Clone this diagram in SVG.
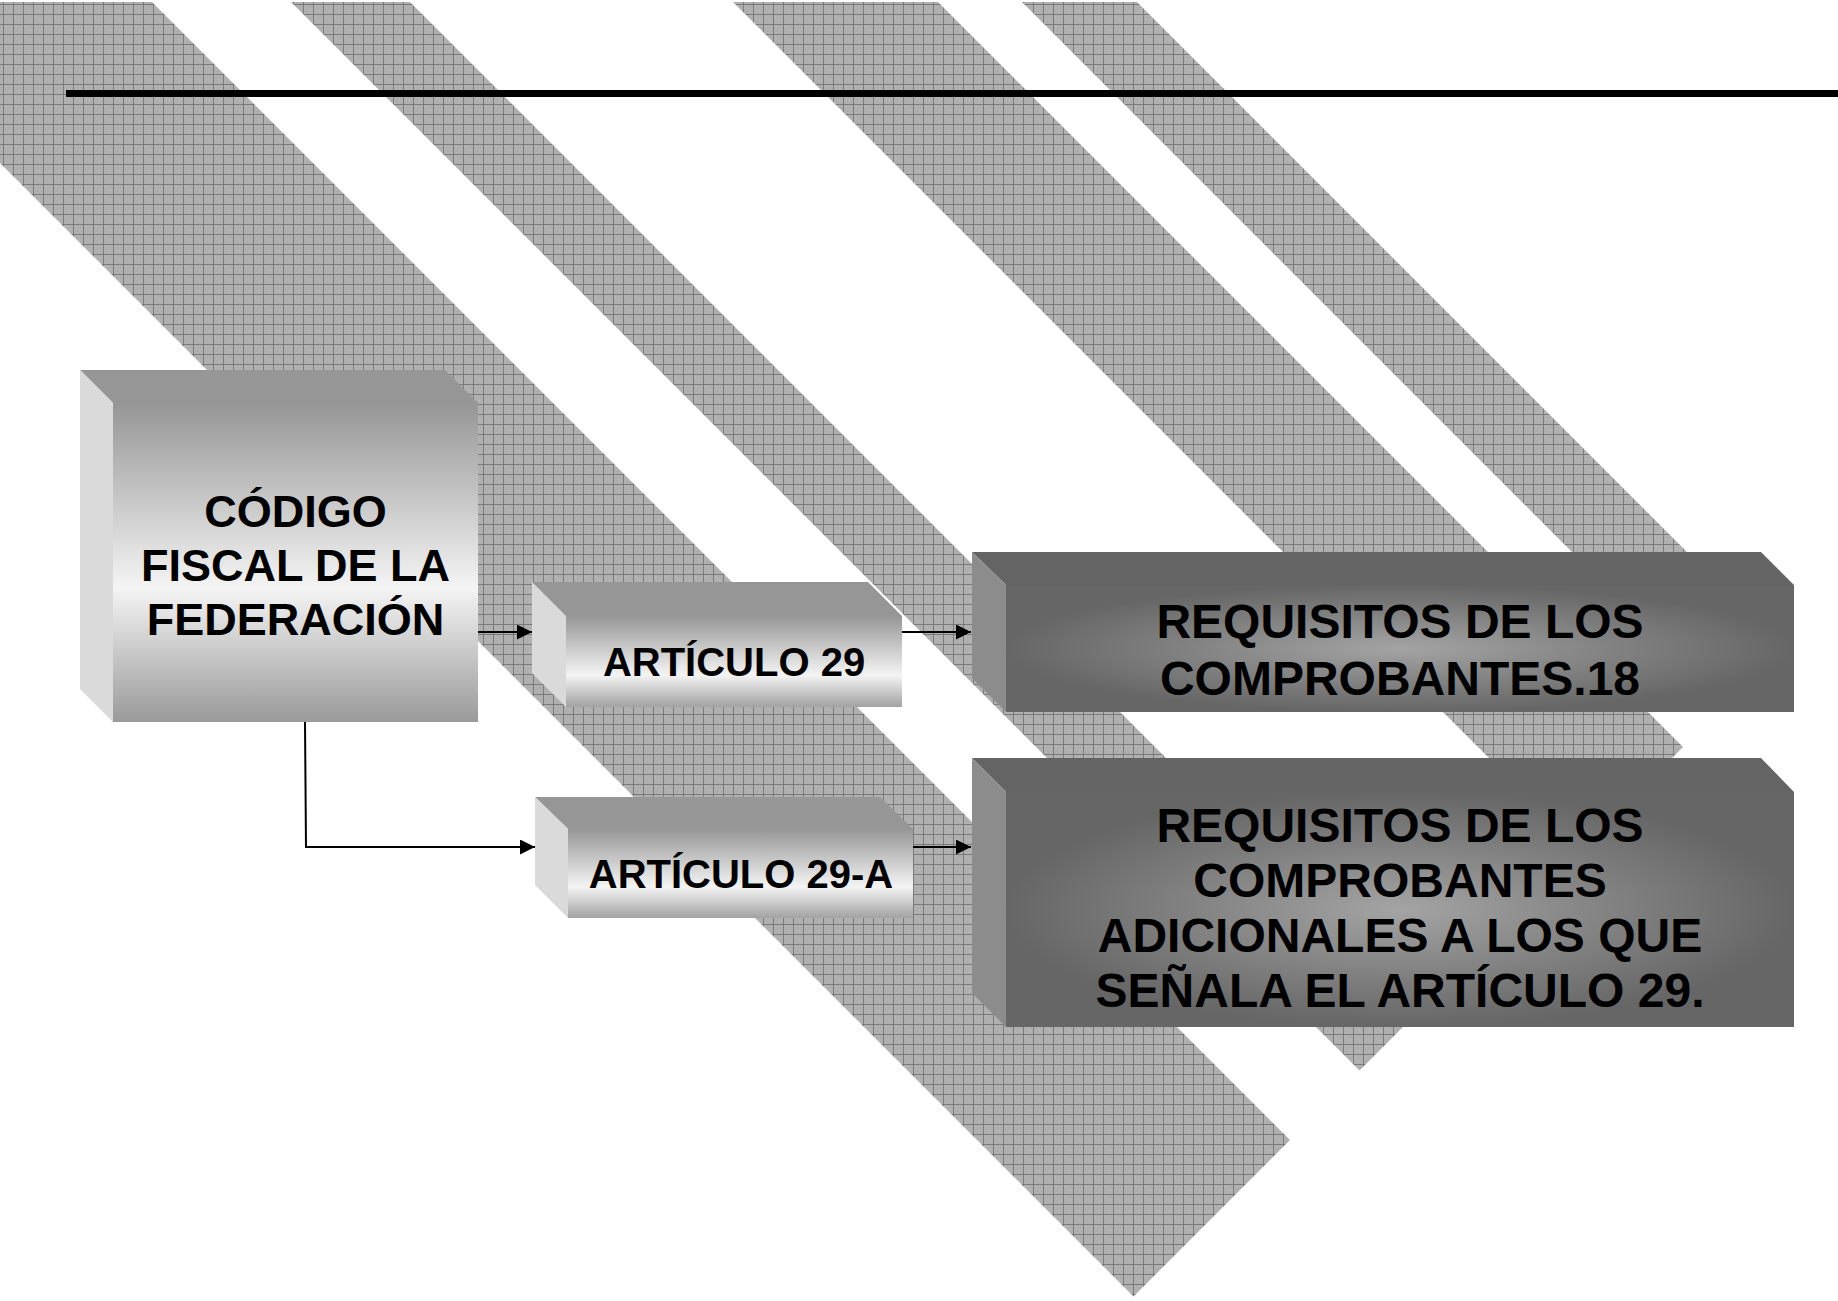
<svg xmlns="http://www.w3.org/2000/svg" width="1838" height="1301" viewBox="0 0 1838 1301">
<defs>
  <pattern id="grid" patternUnits="userSpaceOnUse" x="3" y="4" width="10" height="10">
    <rect width="10" height="10" fill="#b0b0b0"/>
    <rect x="2" y="2" width="1" height="1" fill="#bdbdbd"/>
    <rect x="6" y="6" width="1" height="1" fill="#bdbdbd"/>
    <rect x="4" y="7" width="1" height="1" fill="#a4a4a4"/>
    <rect x="7" y="3" width="1" height="1" fill="#a4a4a4"/>
    <rect x="0" y="0" width="10" height="1" fill="#7a7a7a"/>
    <rect x="0" y="0" width="1" height="10" fill="#7a7a7a"/>
  </pattern>
  <linearGradient id="lightBig" x1="0" y1="0" x2="0" y2="1">
    <stop offset="0" stop-color="#969696"/>
    <stop offset="0.58" stop-color="#f4f4f4"/>
    <stop offset="1" stop-color="#9a9a9a"/>
  </linearGradient>
  <linearGradient id="lightSmall" x1="0" y1="0" x2="0" y2="1">
    <stop offset="0" stop-color="#969696"/>
    <stop offset="0.65" stop-color="#f4f4f4"/>
    <stop offset="1" stop-color="#a2a2a2"/>
  </linearGradient>
  <radialGradient id="darkFront" cx="0.5" cy="0.5" r="0.5">
    <stop offset="0" stop-color="#a4a4a4"/>
    <stop offset="0.6" stop-color="#7e7e7e"/>
    <stop offset="1" stop-color="#666666"/>
  </radialGradient>
  <marker id="arrow" markerUnits="userSpaceOnUse" markerWidth="15" markerHeight="15" refX="15" refY="7.5" orient="auto">
    <path d="M0,0 L15,7.5 L0,15 Z" fill="#000"/>
  </marker>
  <style>
    .stripe { fill: url(#grid); }
    .lTop { fill: #969696; }
    .lSide { fill: #dadada; }
    .dTop { fill: #646464; }
    .dSide { fill: #8c8c8c; }
    .conn { fill: none; stroke: #000; stroke-width: 2; marker-end: url(#arrow); }
    .t1 { font-family: "Liberation Sans", Arial, sans-serif; font-weight: bold; fill: #000; text-anchor: middle; }
  </style>
</defs>

<rect width="1838" height="1301" fill="#ffffff"/>

<g id="background">
  <polygon class="stripe" points="0,2 152,2 1290,1140 1133.5,1296.5 0,163"/>
  <polygon class="stripe" points="291,2 410,2 1419,1011 1359.5,1070.5"/>
  <polygon class="stripe" points="733,2 938,2 1683,747 1580.5,849.5"/>
  <polygon class="stripe" points="1022,2 1137,2 1782.5,647.5 1725,705"/>
  <rect x="66" y="90" width="1772" height="7" fill="#000"/>
</g>

<g id="connectors">
  <line class="conn" x1="478" y1="632" x2="532" y2="632"/>
  <line class="conn" x1="902" y1="632" x2="971" y2="632"/>
  <polyline class="conn" stroke-width="1.5" points="305,722 306,847 535,847"/>
  <line class="conn" x1="913" y1="847" x2="971" y2="847"/>
</g>

<g id="codigo">
  <polygon class="lTop" points="80,370 445,370 478,403 113,403"/>
  <polygon class="lSide" points="80,370 113,403 113,722 80,689"/>
  <rect x="113" y="403" width="365" height="319" fill="url(#lightBig)"/>
  <text class="t1" font-size="45" x="295.5" y="527">CÓDIGO</text>
  <text class="t1" font-size="45" x="295.5" y="581">FISCAL DE LA</text>
  <text class="t1" font-size="45" x="295.5" y="635">FEDERACIÓN</text>
</g>

<g id="art29">
  <polygon class="lTop" points="532,582 868,582 902,616 566,616"/>
  <polygon class="lSide" points="532,582 566,616 566,707 532,673"/>
  <rect x="566" y="616" width="336" height="91" fill="url(#lightSmall)"/>
  <text class="t1" font-size="40" x="734" y="676">ARTÍCULO 29</text>
</g>

<g id="art29a">
  <polygon class="lTop" points="535,797 880,797 913,829 568,829"/>
  <polygon class="lSide" points="535,797 568,829 568,918 535,885"/>
  <rect x="568" y="829" width="345" height="89" fill="url(#lightSmall)"/>
  <text class="t1" font-size="40" x="741" y="888">ARTÍCULO 29-A</text>
</g>

<g id="req1">
  <polygon class="dTop" points="972,552 1761,552 1794,585 1006,585"/>
  <polygon class="dSide" points="972,552 1006,585 1006,712 972,678"/>
  <rect x="1006" y="585" width="788" height="127" fill="url(#darkFront)"/>
  <text class="t1" font-size="48" x="1400" y="638">REQUISITOS DE LOS</text>
  <text class="t1" font-size="48" x="1400" y="695">COMPROBANTES.18</text>
</g>

<g id="req2">
  <polygon class="dTop" points="972,758 1761,758 1794,792 1006,792"/>
  <polygon class="dSide" points="972,758 1006,792 1006,1027 972,993"/>
  <rect x="1006" y="792" width="788" height="235" fill="url(#darkFront)"/>
  <text class="t1" font-size="48" x="1400" y="842">REQUISITOS DE LOS</text>
  <text class="t1" font-size="48" x="1400" y="897">COMPROBANTES</text>
  <text class="t1" font-size="48" x="1400" y="952">ADICIONALES A LOS QUE</text>
  <text class="t1" font-size="48" x="1400" y="1007">SEÑALA EL ARTÍCULO 29.</text>
</g>
</svg>
